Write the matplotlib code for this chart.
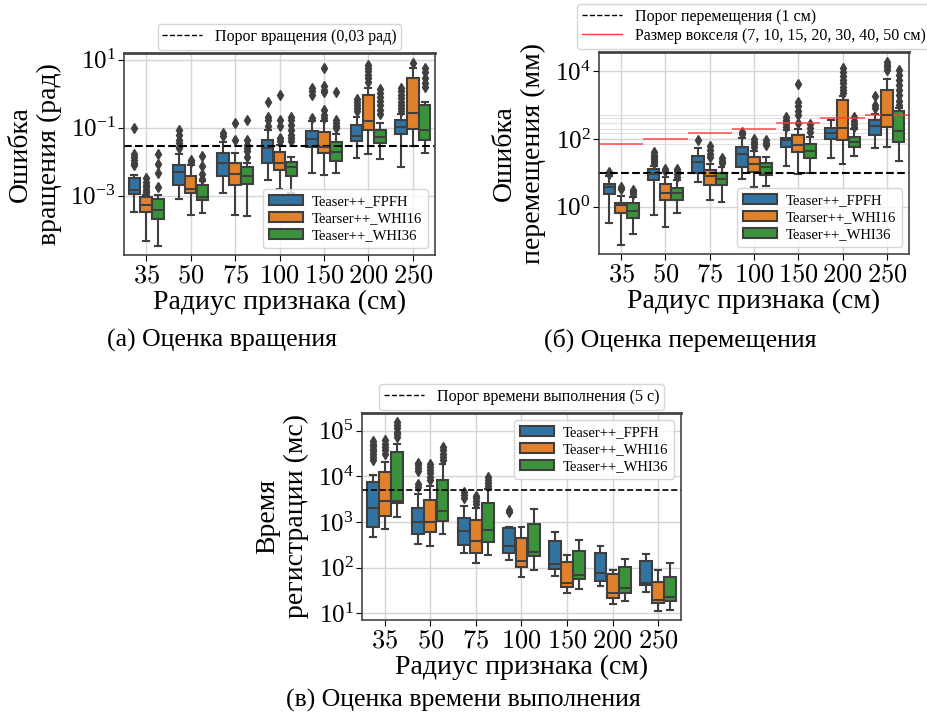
import numpy as np
import matplotlib.pyplot as plt
from matplotlib.patches import Patch
from matplotlib.lines import Line2D

plt.rcParams['font.family'] = ['Liberation Serif', 'DejaVu Serif']
plt.rcParams['mathtext.fontset'] = 'cm'

radii = ['35', '50', '75', '100', '150', '200', '250']
labels_err = ['Teaser++_FPFH', 'Tearser++_WHI16', 'Teaser++_WHI36']
labels_time = ['Teaser++_FPFH', 'Teaser++_WHI16', 'Teaser++_WHI36']
colors = ['#3274a1', '#e1812c', '#3a923a']

# box statistics, log10 of values; rows = FPFH, WHI16, WHI36
# (a) rotation error, rad
rot_q1 = [[-2.95, -2.67, -2.41, -2.02, -1.57, -1.40, -1.19],
          [-3.48, -2.92, -2.68, -2.24, -1.75, -1.06, -1.04],
          [-3.67, -3.12, -2.66, -2.43, -1.99, -1.45, -1.37]]
rot_med = [[-2.82, -2.31, -2.04, -1.60, -1.33, -1.23, -0.98],
           [-3.26, -2.80, -2.36, -2.04, -1.55, -0.81, -0.55],
           [-3.43, -3.02, -2.43, -2.16, -1.70, -1.28, -1.06]]
rot_q3 = [[-2.48, -2.09, -1.73, -1.37, -1.08, -0.91, -0.76],
          [-3.03, -2.41, -2.02, -1.72, -1.11, -0.03, 0.46],
          [-3.10, -2.68, -2.16, -2.01, -1.43, -1.06, -0.34]]
rot_lo = [[-3.49, -3.10, -2.92, -2.53, -2.33, -1.89, -2.14],
          [-4.32, -3.56, -3.56, -2.80, -2.38, -1.77, -1.53],
          [-4.49, -3.51, -3.58, -2.92, -2.33, -1.91, -1.73]]
rot_hi = [[-2.38, -1.76, -1.43, -1.06, -0.81, -0.67, -0.59],
          [-2.97, -2.10, -1.73, -1.50, -0.81, 0.17, 0.75],
          [-2.97, -2.55, -2.04, -1.87, -1.18, -0.86, -0.23]]
rot_fliers = [[[-1.01, -1.76, -1.86, -1.94, -2.02, -2.09], [-1.06, -1.21, -1.35, -1.45, -1.55, -1.60],
               [-1.14, -1.25], [-0.25, -0.67, -0.76, -0.96], [0.17, 0.07, -0.03, -0.72],
               [-0.16, -0.25, -0.34, -0.42, -0.50], [0.17, 0.07, -0.03, -0.13, -0.23, -0.32, -0.42, -0.52]],
              [[-2.48, -2.58, -2.68, -2.75, -2.82, -2.90], [-1.95, -2.00], [-0.86, -1.35],
               [-0.04, -0.76, -0.96, -1.30, -1.40], [0.75, 0.22, 0.12, 0.04, -0.47, -0.62, -0.72],
               [0.85, 0.75, 0.66, 0.56, 0.46, 0.36], [0.92]],
              [[-1.77, -2.07, -2.33, -2.75], [-1.84, -2.12, -2.35, -2.50],
               [-0.76, -1.37, -1.50, -1.60, -1.68, -1.86], [-0.69, -0.78, -0.93, -1.06, -1.21, -1.30, -1.40],
               [0.04, -0.76, -0.86, -0.94, -1.02], [0.14, 0.02, -0.10, -0.20, -0.32, -0.47, -0.59],
               [0.75, 0.64, 0.46, 0.33, 0.20]]]

# (b) translation error, mm
tr_q1 = [[0.39, 0.80, 0.99, 1.18, 1.75, 2.01, 2.12],
         [-0.17, 0.21, 0.65, 1.04, 1.62, 1.96, 2.36],
         [-0.34, 0.19, 0.65, 0.95, 1.44, 1.75, 1.92]]
tr_med = [[0.58, 0.97, 1.33, 1.57, 1.96, 2.17, 2.38],
          [0.05, 0.41, 0.92, 1.26, 1.82, 2.31, 2.70],
          [-0.12, 0.41, 0.83, 1.17, 1.63, 1.91, 2.23]]
tr_q3 = [[0.66, 1.12, 1.50, 1.77, 2.04, 2.31, 2.55],
         [0.12, 0.68, 1.09, 1.46, 2.11, 3.14, 3.45],
         [0.10, 0.55, 1.00, 1.28, 1.84, 2.07, 2.83]]
tr_lo = [[-0.47, -0.24, 0.74, 0.83, 1.21, 1.44, 1.73],
         [-1.12, -0.60, 0.21, 0.58, 0.97, 1.26, 1.75],
         [-0.80, -0.19, 0.15, 0.60, 0.99, 1.49, 1.34]]
tr_hi = [[0.92, 1.20, 1.73, 2.02, 2.25, 2.55, 2.72],
         [0.31, 0.87, 1.26, 1.65, 2.28, 3.25, 3.76],
         [0.29, 0.78, 1.17, 1.48, 2.06, 2.28, 2.90]]
tr_fliers = [[[0.96, 1.00, 1.03], [1.30, 1.36, 1.42, 1.48, 1.53, 1.60], [1.96], [2.14, 2.21],
              [2.35, 2.43, 2.50, 2.57, 2.64], [], [2.91, 2.99, 3.25]],
             [[0.52, 0.58], [1.05, 1.12], [1.46, 1.57, 1.68, 1.80], [1.77, 1.84, 1.92, 1.99],
              [2.48, 2.70, 2.82, 2.96, 3.09, 3.61], [3.35, 3.45, 3.54, 3.64, 3.74, 3.85, 3.96, 4.08],
              [4.03, 4.12, 4.19, 4.27]],
             [[0.39, 0.45, 0.50], [0.89, 0.97, 1.05, 1.12], [1.28, 1.36, 1.44], [1.82, 1.89, 1.96],
              [2.21, 2.33, 2.43], [2.35, 2.45, 2.54, 2.64],
              [3.01, 3.13, 3.30, 3.45, 3.59, 3.74, 3.88, 4.03]]]
voxel_mm = [70, 100, 150, 200, 300, 400, 500]

# (c) registration time, ms
t_q1 = [[2.88, 2.73, 2.50, 2.33, 1.96, 1.71, 1.62],
        [3.14, 2.77, 2.31, 2.02, 1.58, 1.33, 1.23],
        [3.42, 3.02, 2.55, 2.26, 1.74, 1.45, 1.27]]
t_med = [[3.30, 2.99, 2.80, 2.47, 2.08, 1.88, 1.67],
         [3.45, 2.99, 2.59, 2.15, 1.67, 1.45, 1.29],
         [3.47, 3.25, 2.82, 2.34, 1.84, 1.56, 1.35]]
t_q3 = [[3.87, 3.30, 3.09, 2.86, 2.58, 2.31, 2.15],
        [4.10, 3.48, 3.04, 2.64, 2.13, 1.85, 1.69],
        [4.53, 3.91, 3.41, 2.96, 2.36, 2.01, 1.80]]
t_lo = [[2.68, 2.51, 2.31, 2.17, 1.82, 1.60, 1.47],
        [2.85, 2.47, 2.09, 1.80, 1.44, 1.20, 1.05],
        [3.12, 2.73, 2.28, 1.95, 1.53, 1.27, 1.07]]
t_hi = [[4.03, 3.61, 3.35, 2.90, 2.77, 2.47, 2.29],
        [4.32, 3.79, 3.31, 2.88, 2.28, 1.95, 1.95],
        [4.71, 4.27, 3.72, 3.29, 2.61, 2.18, 2.09]]
t_fliers = [[[4.37, 4.43, 4.49, 4.55, 4.61, 4.66, 4.72, 4.78], [3.76, 3.83, 4.12, 4.18, 4.24, 4.30],
             [3.52, 3.59, 3.66], [3.22, 3.26], [], [], []],
            [[4.50, 4.58, 4.65, 4.72, 4.80], [3.92, 3.99, 4.07, 4.14, 4.21, 4.27],
             [3.39, 3.45, 3.52, 3.58], [], [], [], []],
            [[4.87, 4.93, 4.98, 5.06, 5.13, 5.20], [4.36, 4.43, 4.50, 4.58, 4.65],
             [3.79, 3.85, 3.92, 3.98], [], [], [], []]]

line_c = '#3f3f3f'


def draw_boxes(ax, q1, med, q3, lo, hi, fl):
    w = 0.8 / 3
    for h in range(3):
        stats = []
        for i in range(len(radii)):
            stats.append(dict(q1=10**q1[h][i], med=10**med[h][i], q3=10**q3[h][i],
                              whislo=10**lo[h][i], whishi=10**hi[h][i],
                              fliers=10**np.array(fl[h][i])))
        ax.bxp(stats, positions=np.arange(len(radii)) + (h - 1) * w, widths=w * 0.98,
               patch_artist=True, manage_ticks=False,
               boxprops=dict(facecolor=colors[h], edgecolor=line_c, lw=1.5),
               medianprops=dict(color=line_c, lw=1.5),
               whiskerprops=dict(color=line_c, lw=1.5),
               capprops=dict(color=line_c, lw=1.5),
               flierprops=dict(marker='d', markersize=5, markerfacecolor=line_c,
                               markeredgecolor=line_c))


def style(ax, ylim, yticks, ylabel, label_x):
    ax.set_yscale('log')
    ax.set_xlim(-0.5, len(radii) - 0.5)
    ax.set_ylim(*ylim)
    ax.set_yticks(yticks)
    ax.set_xticks(range(len(radii)))
    ax.set_xticklabels(['$%s$' % r for r in radii], fontsize=19)
    ax.tick_params(axis='y', labelsize=18, length=4, pad=2)
    ax.tick_params(axis='y', which='minor', length=2)
    ax.tick_params(axis='x', length=4)
    ax.set_axisbelow(True)
    ax.grid(True, color='#d5d5d5', lw=1)
    for s in ax.spines.values():
        s.set_color('#444444')
        s.set_linewidth(1.2)
    ax.spines['top'].set_linewidth(2)
    ax.set_xlabel('Радиус признака (см)', fontsize=20, labelpad=2)
    ax.set_ylabel(ylabel, fontsize=20, linespacing=1.2)
    ax.yaxis.set_label_coords(label_x, 0.5)


def hue_legend(ax, labels, loc):
    handles = [Patch(facecolor=c, edgecolor=line_c, lw=1.5) for c in colors]
    leg = ax.legend(handles, labels, loc=loc, fontsize=10.5, handlelength=2.3,
                    handleheight=0.7, labelspacing=0.25, borderpad=0.4, handletextpad=0.6)
    ax.add_artist(leg)


fig = plt.figure(figsize=(9.28, 7.2), dpi=100)

# (a) rotation
ax_a = fig.add_axes([124 / 928, 1 - 255 / 720, 311 / 928, 202 / 720])
draw_boxes(ax_a, rot_q1, rot_med, rot_q3, rot_lo, rot_hi, rot_fliers)
ax_a.axhline(0.03, color='black', ls='--', lw=1.5)
style(ax_a, (10**-4.74, 10**1.2), [1e-3, 1e-1, 1e1], 'Ошибка\nвращения (рад)', -0.2)
hue_legend(ax_a, labels_err, 'lower right')
ax_a.legend([Line2D([], [], color='black', ls='--', lw=1)], ['Порог вращения (0,03 рад)'],
            loc='lower center', bbox_to_anchor=(0.5, 1.0), fontsize=11.5, handlelength=2.5,
            borderpad=0.3, borderaxespad=0.2)

# (b) translation
ax_b = fig.add_axes([599 / 928, 1 - 254 / 720, 310 / 928, 202 / 720])
draw_boxes(ax_b, tr_q1, tr_med, tr_q3, tr_lo, tr_hi, tr_fliers)
for i, v in enumerate(voxel_mm):
    ax_b.axhline(v, color='#cfcfcf', lw=0.8, alpha=0.6, zorder=0.5)
    ax_b.hlines(v, i - 0.5, i + 0.5, color='#ff3b3b', lw=1.2, alpha=0.85)
ax_b.axhline(10, color='black', ls='--', lw=1.5)
style(ax_b, (10**-1.39, 10**4.56), [1e0, 1e2, 1e4], 'Ошибка\nперемещения (мм)', -0.17)
hue_legend(ax_b, labels_err, 'lower right')
ax_b.legend([Line2D([], [], color='black', ls='--', lw=1), Line2D([], [], color='#ff3b3b', lw=1)],
            ['Порог перемещения (1 см)', 'Размер вокселя (7, 10, 15, 20, 30, 40, 50 см)'],
            loc='lower center', bbox_to_anchor=(0.5, 1.0), fontsize=11.5, handlelength=2.5,
            borderpad=0.3, borderaxespad=0.2, labelspacing=0.2)

# (c) run time
ax_c = fig.add_axes([362 / 928, 1 - 620 / 720, 319 / 928, 207 / 720])
draw_boxes(ax_c, t_q1, t_med, t_q3, t_lo, t_hi, t_fliers)
ax_c.axhline(5000, color='black', ls='--', lw=1.2)
style(ax_c, (10**0.85, 10**5.39), [1e1, 1e2, 1e3, 1e4, 1e5], 'Время\nрегистрации (мс)', -0.165)
hue_legend(ax_c, labels_time, 'upper right')
ax_c.legend([Line2D([], [], color='black', ls='--', lw=1)], ['Порог времени выполнения (5 с)'],
            loc='lower center', bbox_to_anchor=(0.5, 1.0), fontsize=11.5, handlelength=2.5,
            borderpad=0.3, borderaxespad=0.2)

fig.text(222 / 928, 1 - 340 / 720, '(а) Оценка вращения', fontsize=18.5, ha='center', va='center')
fig.text(680 / 928, 1 - 340 / 720, '(б) Оценка перемещения', fontsize=18.5, ha='center', va='center')
fig.text(463 / 928, 1 - 700 / 720, '(в) Оценка времени выполнения', fontsize=18.5, ha='center', va='center')

fig.savefig('out.png', dpi=100)
